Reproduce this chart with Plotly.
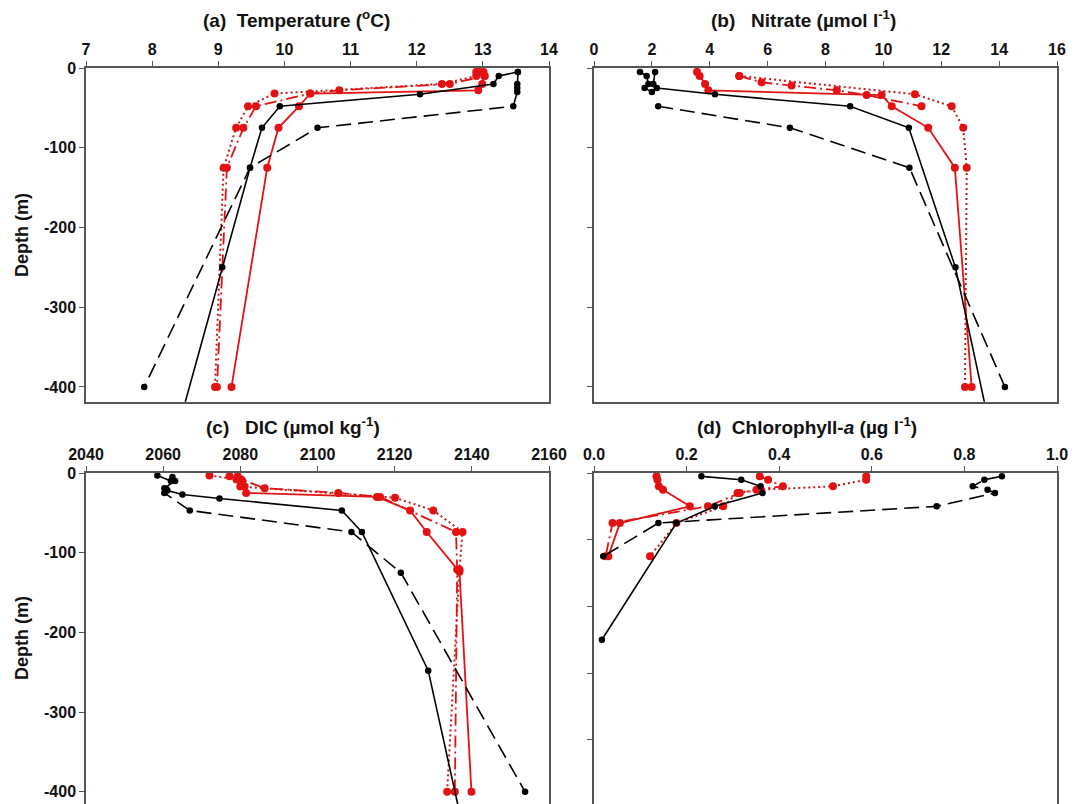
import plotly.graph_objects as go

# ---------------- data ----------------
# Series: s1 = black solid, s2 = black dashed, s3 = red solid, s4 = red dotted, s5 = red dash-dot
# (a) Temperature (deg C)
temp_depth_s1 = [-5, -10, -20, -33, -48, -75, -125, -250, -500]
temp_s1 = [13.53, 13.24, 13.16, 12.05, 9.93, 9.66, 9.48, 9.06, 8.23]
temp_depth_s2 = [-5, -20, -25, -30, -48, -75, -125, -400]
temp_s2 = [13.53, 13.52, 13.52, 13.52, 13.46, 10.50, 9.48, 7.88]
temp_depth_s3 = [-5, -10, -20, -28, -32, -48, -75, -125, -400]
temp_s3 = [13.01, 13.02, 12.99, 12.93, 10.39, 10.22, 9.91, 9.74, 9.20]
temp_depth_s4 = [-5, -10, -20, -32, -48, -75, -125, -400]
temp_s4 = [12.95, 12.90, 12.38, 9.85, 9.45, 9.27, 9.08, 8.95]
temp_depth_s5 = [-5, -10, -20, -28, -32, -48, -75, -125, -400]
temp_s5 = [12.90, 13.03, 12.50, 10.83, 10.39, 9.57, 9.38, 9.13, 8.98]

# (b) Nitrate (umol/l)
no3_depth_s1 = [-5, -10, -20, -25, -33, -48, -75, -250, -500]
no3_s1 = [1.59, 1.82, 1.88, 2.17, 4.18, 8.85, 10.88, 12.49, 13.97]
no3_depth_s2 = [-5, -20, -25, -30, None, -48, -75, -125, -400]
no3_s2 = [2.11, 2.05, 1.75, 2.00, None, 2.22, 6.77, 10.90, 14.20]
no3_depth_s3 = [-5, -10, -20, -28, -34, -48, -75, -125, -400]
no3_s3 = [3.56, 3.65, 3.84, 3.95, 9.94, 10.29, 11.55, 12.47, 13.05]
no3_depth_s4 = [-10, -33, -48, -75, -125, -400]
no3_s4 = [5.02, 11.09, 12.36, 12.76, 12.88, 12.82]
no3_depth_s5 = [-10, -18, -22, -28, -34, -48]
no3_s5 = [5.02, 5.79, 6.83, 8.39, 9.42, 11.32]

# (c) DIC (umol/kg)
dic_depth_s1 = [-5, -10, -19, -22, -27, -32, -47, -74, -248, -500]
dic_s1 = [2062.4, 2063.1, 2060.3, 2061.1, 2065.0, 2074.6, 2106.3, 2111.5, 2128.7, 2140.2]
dic_depth_s2 = [-3, -10, -20, -25, -47, -74, -125, -400]
dic_s2 = [2058.5, 2062.0, 2060.8, 2060.3, 2066.9, 2108.8, 2121.6, 2153.8]
dic_depth_s3 = [-4, -10, -17, -25, -30, -47, -74, -124, -400]
dic_s3 = [2079.3, 2080.5, 2081.1, 2081.5, 2115.4, 2124.0, 2128.3, 2136.8, 2139.9]
dic_depth_s4 = [-3, -8, -17, -31, -47, -74, -121, -400]
dic_s4 = [2072.0, 2079.0, 2080.0, 2120.1, 2130.0, 2137.6, 2136.8, 2133.6]
dic_depth_s5 = [-4, -8, -19, -25, -30, -74, -121, -400]
dic_s5 = [2077.2, 2080.2, 2086.3, 2105.4, 2116.2, 2135.9, 2136.2, 2135.6]

# (d) Chlorophyll-a (ug/l)
chl_depth_s1 = [-5, -10, -20, -30, -50, -75, -250]
chl_s1 = [0.232, 0.318, 0.360, 0.364, 0.261, 0.178, 0.017]
chl_depth_s2 = [-5, -10, -20, -25, -30, -50, -75, -125]
chl_s2 = [0.881, 0.843, 0.818, 0.850, 0.866, 0.740, 0.139, 0.020]
chl_depth_s3 = [-5, -10, -20, -25, -50, -75, -125]
chl_s3 = [0.135, 0.137, 0.140, 0.149, 0.207, 0.056, 0.031]
chl_depth_s4 = [-5, -10, -20, -25, -30, -50, -75, -125]
chl_s4 = [0.588, 0.588, 0.516, 0.360, 0.310, 0.279, 0.178, 0.121]
chl_depth_s5 = [-5, -10, -20, -25, -30, -50, -75, -125]
chl_s5 = [0.358, 0.376, 0.408, 0.351, 0.315, 0.246, 0.040, 0.025]

# ticks
temp_ticks = [7, 8, 9, 10, 11, 12, 13, 14]
no3_ticks = [0, 2, 4, 6, 8, 10, 12, 14, 16]
dic_ticks = [2040, 2060, 2080, 2100, 2120, 2140, 2160]
chl_ticks = [0.0, 0.2, 0.4, 0.6, 0.8, 1.0]
chl_tick_labels = ["0.0", "0.2", "0.4", "0.6", "0.8", "1.0"]
depth_ticks = [0, -100, -200, -300, -400]
depth_tick_labels = ["0", "-100", "-200", "-300", "-400"]

titles = [
    "(a)  Temperature (<sup>o</sup>C)",
    "(b)   Nitrate (\u00b5mol l<sup>-1</sup>)",
    "(c)   DIC (\u00b5mol kg<sup>-1</sup>)",
    "(d)  Chlorophyll-<i>a</i> (\u00b5g l<sup>-1</sup>)",
]

# ---------------- styling ----------------
W, H = 1077, 804
RED = "#e31212"
RED_DOT = "#c41a1a"
BLACK = "#000000"
AXC = "#555555"
FONT = "Liberation Sans, Arial, sans-serif"

styles = {
    "s1": dict(line=dict(color=BLACK, width=1.6), marker=dict(color=BLACK, size=6.5)),
    "s2": dict(line=dict(color=BLACK, width=1.6, dash="15px,7px"), marker=dict(color=BLACK, size=6.5)),
    "s3": dict(line=dict(color=RED, width=1.8), marker=dict(color=RED, size=8)),
    "s4": dict(line=dict(color=RED_DOT, width=2, dash="2px,3px"), marker=dict(color=RED, size=8)),
    "s5": dict(line=dict(color=RED, width=1.8, dash="12px,4px,2px,4px"), marker=dict(color=RED, size=8)),
}

panels = [
    ("x", "y", [(temp_s1, temp_depth_s1), (temp_s2, temp_depth_s2), (temp_s3, temp_depth_s3),
                (temp_s4, temp_depth_s4), (temp_s5, temp_depth_s5)]),
    ("x2", "y2", [(no3_s1, no3_depth_s1), (no3_s2, no3_depth_s2), (no3_s3, no3_depth_s3),
                  (no3_s4, no3_depth_s4), (no3_s5, no3_depth_s5)]),
    ("x3", "y3", [(dic_s1, dic_depth_s1), (dic_s2, dic_depth_s2), (dic_s3, dic_depth_s3),
                  (dic_s4, dic_depth_s4), (dic_s5, dic_depth_s5)]),
    ("x4", "y4", [(chl_s1, chl_depth_s1), (chl_s2, chl_depth_s2), (chl_s3, chl_depth_s3),
                  (chl_s4, chl_depth_s4), (chl_s5, chl_depth_s5)]),
]

fig = go.Figure()
order = ["s4", "s5", "s3", "s2", "s1"]
keys = ["s1", "s2", "s3", "s4", "s5"]
for xa, ya, series in panels:
    sd = dict(zip(keys, series))
    for k in order:
        xs, ys = sd[k]
        fig.add_trace(go.Scatter(x=xs, y=ys, xaxis=xa, yaxis=ya, mode="lines+markers",
                                 line=styles[k]["line"], marker=styles[k]["marker"],
                                 connectgaps=False, showlegend=False, hoverinfo="skip"))

# pixel geometry
xl = [86 / W, 549 / W]
xr = [594 / W, 1057 / W]
ytop = [1 - 401.7 / H, 1 - 68 / H]
ybot = [0, 1 - 473 / H]

tickfont = dict(family=FONT, size=16, color="#111111", weight="bold")

def xax(domain, anchor, rng, tv, tt=None, mirror=True):
    d = dict(domain=domain, anchor=anchor, range=rng, side="top", tickvals=tv,
             showline=True, linecolor=AXC, linewidth=1.5, mirror=mirror,
             ticks="outside", ticklen=5, tickcolor=AXC, tickwidth=1.2,
             showgrid=False, zeroline=False, tickfont=tickfont, fixedrange=True,
             automargin=False)
    if tt is not None:
        d["ticktext"] = tt
    return d

def yax(domain, anchor, rng, labels=True):
    return dict(domain=domain, anchor=anchor, range=rng, tickvals=depth_ticks,
                ticktext=depth_tick_labels, showticklabels=labels,
                showline=True, linecolor=AXC, linewidth=1.5, mirror=True,
                ticks="outside", ticklen=5, tickcolor=AXC, tickwidth=1.2,
                showgrid=False, zeroline=False, tickfont=tickfont, fixedrange=True,
                automargin=False)

fig.update_layout(
    width=W, height=H, autosize=False,
    margin=dict(l=0, r=0, t=0, b=0),
    paper_bgcolor="white", plot_bgcolor="white",
    xaxis=xax(xl, "y", [7, 14], temp_ticks),
    yaxis=yax(ytop, "x", [-418.5, 0]),
    xaxis2=xax(xr, "y2", [0, 16], no3_ticks),
    yaxis2=yax(ytop, "x2", [-418.5, 0], labels=False),
    xaxis3=xax(xl, "y3", [2040, 2160], dic_ticks, mirror=False),
    yaxis3=yax(ybot, "x3", [-415.3, 0]),
    xaxis4=xax(xr, "y4", [0, 1.0], chl_ticks, chl_tick_labels, mirror=False),
    yaxis4=yax(ybot, "x4", [-496.3, 0], labels=False),
)

title_pos = [(296, 19), (803, 19), (293, 426), (807, 426)]
for t, (px, py) in zip(titles, title_pos):
    fig.add_annotation(text=t, x=px / W, y=1 - py / H, xref="paper", yref="paper",
                       xanchor="center", yanchor="middle", showarrow=False,
                       font=dict(family=FONT, size=19, color="#111111", weight="bold"))

for py in [235, 638]:
    fig.add_annotation(text="Depth (m)", x=22 / W, y=1 - py / H, xref="paper", yref="paper",
                       xanchor="center", yanchor="middle", showarrow=False, textangle=-90,
                       font=dict(family=FONT, size=18, color="#111111", weight="bold"))

fig.write_html("out.html")
